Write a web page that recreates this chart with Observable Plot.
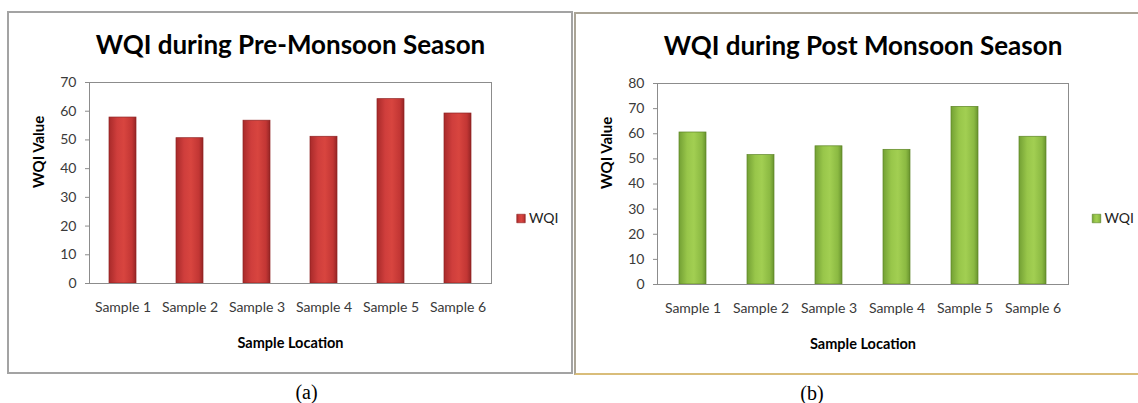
<!DOCTYPE html>
<html><head><meta charset="utf-8">
<script src="https://cdn.jsdelivr.net/npm/d3@7"></script>
<script src="https://cdn.jsdelivr.net/npm/@observablehq/plot@0.6"></script>
<style>
body{margin:0;background:#fff;width:1138px;height:403px;position:relative;overflow:hidden;font-family:Lato,sans-serif}
.panel{position:absolute;box-sizing:border-box;border:2px solid #a3a3a3}
.chart{position:absolute;top:0}
</style></head><body>
<div class="panel" style="left:7px;top:11px;width:566px;height:363px"></div>
<div class="panel" style="left:574px;top:12px;width:570px;height:363px;border-color:#aaa496;border-bottom-color:#d9bd7a"></div>
<div id="a" class="chart" style="left:0px"></div>
<div id="b" class="chart" style="left:574px"></div>
<script>
const samples = ["Sample 1", "Sample 2", "Sample 3", "Sample 4", "Sample 5", "Sample 6"];
const preMonsoon = [57.8, 50.6, 56.7, 51.1, 64.2, 59.2];
const postMonsoon = [60.5, 51.5, 55.0, 53.6, 70.7, 58.8];
const preTicks = [0, 10, 20, 30, 40, 50, 60, 70];
const postTicks = [0, 10, 20, 30, 40, 50, 60, 70, 80];
const seriesName = "WQI";
const titles = ["WQI during Pre-Monsoon Season", "WQI during Post Monsoon Season"];
const captions = ["(a)", "(b)"];
const yLabel = "WQI Value";
const xLabel = "Sample Location";

function makeChart(cfg) {
  const data = samples.map((s, i) => ({sample: s, value: cfg.values[i]}));
  const gid = "grad-" + cfg.id;
  const fill = `url(#${gid})`;
  const plot = Plot.plot({
    width: cfg.width,
    height: 403,
    marginLeft: cfg.ml, marginRight: cfg.mr, marginTop: cfg.mt, marginBottom: cfg.mb,
    style: {background: "transparent", fontFamily: "Lato, sans-serif", fontSize: "14px", color: "#3a3a3a", overflow: "visible"},
    x: {domain: samples, paddingInner: 0.6, paddingOuter: 0.3, label: null},
    y: {domain: [0, cfg.ticks[cfg.ticks.length - 1]], label: null},
    marks: [
      Plot.barY(data, {x: "sample", y: "value", fill, stroke: cfg.edge, strokeWidth: 0.7}),
      Plot.frame({stroke: "#8c8c8c", strokeWidth: 1}),
      Plot.axisY({ticks: cfg.ticks, tickSize: 4, tickPadding: 9, stroke: "#8c8c8c", fontSize: 14, label: null}),
      Plot.axisX({tickSize: 0, tickPadding: 19, fontSize: 14, label: null}),
      Plot.text([cfg.title], {frameAnchor: "top", lineAnchor: "middle", dy: -37, fontSize: 26, fontWeight: "bold", fill: "#000"}),
      Plot.text([yLabel], {frameAnchor: "left", lineAnchor: "middle", dx: -50, dy: 5, rotate: -90, fontSize: 15, fontWeight: "bold", fill: "#000"}),
      Plot.text([xLabel], {frameAnchor: "bottom", lineAnchor: "middle", dy: 60, fontSize: 14.5, fontWeight: "bold", fill: "#000"}),
      Plot.dot([seriesName], {frameAnchor: "right", dx: cfg.lgDx, dy: cfg.lgDy, symbol: "square", r: 4.8, fill, stroke: cfg.edge, strokeWidth: 0.6}),
      Plot.text([seriesName], {frameAnchor: "right", lineAnchor: "middle", dx: cfg.lgDx + 8, dy: cfg.lgDy, textAnchor: "start", fontSize: 14, fill: "#222"}),
      Plot.text([cfg.caption], {frameAnchor: "bottom", lineAnchor: "middle", dx: cfg.capDx, dy: 109, fontFamily: "Liberation Serif, serif", fontSize: 20, fill: "#000"})
    ]
  });
  const svg = d3.select(plot);
  const g = svg.insert("defs", ":first-child").append("linearGradient")
    .attr("id", gid).attr("x1", "0").attr("x2", "1").attr("y1", "0").attr("y2", "0");
  cfg.stops.forEach(([o, c]) => g.append("stop").attr("offset", o).attr("stop-color", c));
  document.getElementById(cfg.id).appendChild(plot);
}

makeChart({id: "a", values: preMonsoon, ticks: preTicks, title: titles[0], caption: captions[0],
  width: 572, ml: 89, mr: 81, mt: 82, mb: 120, lgDx: 29.5, lgDy: 35.5, capDx: 16,
  edge: "#8f2222",
  stops: [[0, "#a82a2a"], [0.3, "#cf3e3c"], [0.55, "#d8453f"], [0.85, "#c23634"], [1, "#952525"]]});
makeChart({id: "b", values: postMonsoon, ticks: postTicks, title: titles[1], caption: captions[1],
  width: 564, ml: 83, mr: 70, mt: 83, mb: 119, lgDx: 28, lgDy: 34.5, capDx: -51,
  edge: "#5d8526",
  stops: [[0, "#73a034"], [0.3, "#98c64a"], [0.55, "#a2cf52"], [0.85, "#8bb942"], [1, "#69942e"]]});
</script>
</body></html>
